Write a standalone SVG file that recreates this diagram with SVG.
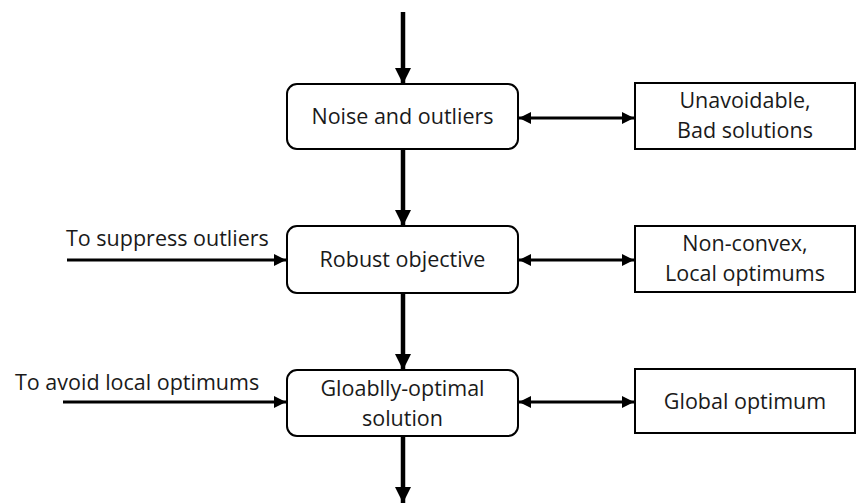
<svg xmlns="http://www.w3.org/2000/svg" width="857" height="504" viewBox="0 0 857 504">
<style>
.box{fill:#fff;stroke:#000;stroke-width:2}
.t{font-family:"Open Sans","Noto Sans","DejaVu Sans",sans-serif;font-size:21.5px;fill:#1a1a1a;text-anchor:middle}
.tl{font-family:"Open Sans","Noto Sans","DejaVu Sans",sans-serif;font-size:21.5px;fill:#1a1a1a}
.v{stroke:#000;stroke-width:4.5;fill:none}
.h{stroke:#000;stroke-width:3;fill:none}
</style>
<defs>
<marker id="big" markerUnits="userSpaceOnUse" markerWidth="18" markerHeight="18" refX="16" refY="8" orient="auto">
<polygon points="0,0 16,8 0,16" fill="#000"/>
</marker>
<marker id="sm" markerUnits="userSpaceOnUse" markerWidth="14" markerHeight="14" refX="12" refY="6" orient="auto-start-reverse">
<polygon points="0,0 12,6 0,12" fill="#000"/>
</marker>
</defs>
<g id="connectors">
<line class="v" x1="403" y1="12" x2="403" y2="84" marker-end="url(#big)"/>
<line class="v" x1="403" y1="149" x2="403" y2="226" marker-end="url(#big)"/>
<line class="v" x1="403" y1="293" x2="403" y2="370" marker-end="url(#big)"/>
<line class="v" x1="403" y1="436" x2="403" y2="503" marker-end="url(#big)"/>
<line class="h" x1="519" y1="118" x2="634" y2="118" marker-start="url(#sm)" marker-end="url(#sm)"/>
<line class="h" x1="519" y1="260" x2="634" y2="260" marker-start="url(#sm)" marker-end="url(#sm)"/>
<line class="h" x1="519" y1="402" x2="634" y2="402" marker-start="url(#sm)" marker-end="url(#sm)"/>
<line class="h" x1="67" y1="260" x2="286" y2="260" marker-end="url(#sm)"/>
<line class="h" x1="63" y1="402" x2="286" y2="402" marker-end="url(#sm)"/>
<text class="tl" x="66" y="246">To suppress outliers</text>
<text class="tl" x="15" y="390">To avoid local optimums</text>
</g>
<g id="noise">
<rect class="box" x="287" y="84" width="231" height="65" rx="10"/>
<text class="t" x="402.5" y="124">Noise and outliers</text>
</g>
<g id="unavoidable">
<rect class="box" x="635" y="83" width="220" height="66"/>
<text class="t" x="745" y="108">Unavoidable,</text>
<text class="t" x="745" y="138">Bad solutions</text>
</g>
<g id="robust">
<rect class="box" x="287" y="226" width="231" height="67" rx="10"/>
<text class="t" x="402.5" y="267">Robust objective</text>
</g>
<g id="nonconvex">
<rect class="box" x="635" y="226" width="220" height="66"/>
<text class="t" x="745" y="251">Non-convex,</text>
<text class="t" x="745" y="281">Local optimums</text>
</g>
<g id="global">
<rect class="box" x="287" y="370" width="231" height="66" rx="10"/>
<text class="t" x="402.5" y="396">Gloablly-optimal</text>
<text class="t" x="402.5" y="426">solution</text>
</g>
<g id="globalopt">
<rect class="box" x="635" y="369" width="220" height="64"/>
<text class="t" x="745" y="409">Global optimum</text>
</g>
</svg>
